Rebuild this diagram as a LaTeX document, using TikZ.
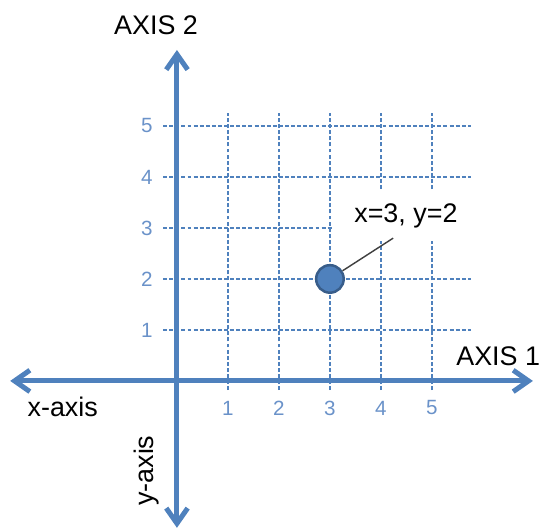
\documentclass[tikz,border=0pt]{standalone}
\usepackage{fontspec}
\setmainfont{Liberation Sans}
\usetikzlibrary{arrows.meta,positioning,calc}
\definecolor{axisblue}{HTML}{4F81BD}
\definecolor{dotedge}{HTML}{385D8A}
\definecolor{ticktext}{HTML}{6A92C9}

\begin{document}
\begin{tikzpicture}[
  font=\fontsize{15}{18}\selectfont,
  axis/.style={axisblue, line width=2.8pt, line cap=round,
    {Straight Barb[length=3mm,width=4.2mm]}-{Straight Barb[length=3mm,width=4.2mm]}},
  gridline/.style={axisblue, line width=0.75pt, dash pattern=on 2.2pt off 1.2pt},
  ticklab/.style={ticktext, font=\fontsize{11.5}{14}\selectfont},
  axislab/.style={black},
  callout/.style={fill=white, minimum width=2.86cm, minimum height=0.98cm, inner sep=0pt},
  pointdot/.style={circle, draw=dotedge, fill=axisblue, line width=1.4pt, minimum size=0.54cm, inner sep=0pt},
  leader/.style={black!75, line width=0.8pt}
]
\useasboundingbox (-3.47,-2.94) rectangle (7.10,7.47);

% dashed grid and tick numbers
\foreach \i in {1,...,5} {
  \draw[gridline] (-0.27,\i) -- (5.76,\i);
  \draw[gridline] (\i,-0.18) -- (\i,5.25);
  \node[ticklab] (xnum\i) at (\i,-0.53) {\i};
  \node[ticklab] (ynum\i) at (-0.59,\i) {\i};
}

\node[callout] (ptlbl) at (4.49,3.24) {x=3, y=2};

% axes
\coordinate (xneg) at (-3.27,0);
\coordinate (xpos) at (6.98,0);
\coordinate (yneg) at (0,-2.88);
\coordinate (ypos) at (0,6.49);
\draw[axis] (xneg) -- (xpos);
\draw[axis] (yneg) -- (ypos);

\node[axislab] (ax2) at (-0.41,6.98) {AXIS 2};
\node[axislab] (ax1) at (6.30,0.49) {AXIS 1};
\node[axislab] (xlab) at (-2.24,-0.51) {x-axis};
\node[axislab, rotate=90] (ylab) at (-0.59,-1.76) {y-axis};

\node[pointdot] (pt) at (3,2) {};
\coordinate (lead) at (4.24,2.80);
\draw[leader] (lead) -- (pt);

\end{tikzpicture}
\end{document}
